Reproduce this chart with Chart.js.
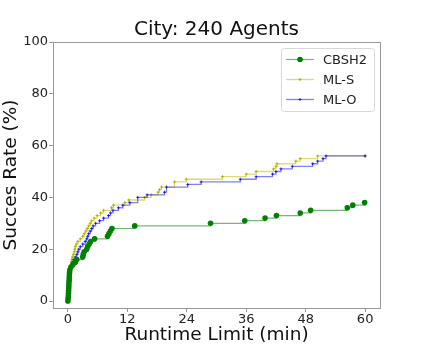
<!DOCTYPE html>
<html>
<head>
<meta charset="utf-8">
<script src="https://cdn.jsdelivr.net/npm/chart.js@4.4.0/dist/chart.umd.min.js"></script>
<style>
  html, body { margin: 0; padding: 0; background: #fff; }
</style>
</head>
<body>
<canvas id="chart" width="423" height="346"></canvas>
<script>
// Runtime limit (min) at which each extra instance gets solved, and the success rate (%) reached there
const cbshX = [0, 0.05, 0.1, 0.12, 0.15, 0.18, 0.2, 0.22, 0.25, 0.28, 0.3, 0.35, 0.4, 0.6, 1.0, 1.5, 1.8, 3.0, 3.1, 3.3,
               3.8, 4.0, 4.3, 4.6, 5.4, 8.0, 8.3, 8.6, 8.9, 13.5, 28.8, 35.7, 39.8, 42.1, 46.9, 49.0, 56.4, 57.5, 59.9];
const cbshY = [0, 1, 2, 3, 4, 5, 6, 7, 8, 9, 10, 11, 12, 13, 14, 15, 16, 17, 18, 19,
               20, 21, 22, 23, 24, 25, 26, 27, 28, 29, 30, 31, 32, 33, 34, 35, 36, 37, 38];

const mlsX = [0, 0.05, 0.1, 0.15, 0.2, 0.25, 0.3, 0.35, 0.4, 0.5, 0.6, 0.7, 0.8, 0.9, 1.1, 1.3, 1.4, 1.5, 1.7, 2.0,
              2.5, 3.0, 3.3, 3.6, 3.9, 4.2, 4.5, 4.8, 5.3, 5.9, 6.6, 7.2, 8.8, 9.2, 11.5, 12.3, 15.5, 16.8, 18.2, 18.5,
              18.9, 21.5, 23.9, 31.2, 36.0, 38.0, 41.5, 42.0, 42.2, 46.0, 46.9, 50.4, 60];
const mlsY = [0, 1, 2, 4, 6, 8, 10, 11, 12, 13, 14, 15, 16, 17, 18, 19, 20, 21, 22, 23,
              24, 25, 26, 27, 28, 29, 30, 31, 32, 33, 34, 35, 36, 37, 38, 39, 40, 41, 42, 43,
              44, 46, 47, 48, 49, 50, 51, 52, 53, 54, 55, 56, 56];

const mloX = [0, 0.05, 0.1, 0.15, 0.2, 0.25, 0.3, 0.35, 0.4, 0.5, 0.7, 0.9, 1.2, 1.5, 1.8, 2.0, 2.2, 2.5, 3.0, 3.5,
              3.8, 4.0, 4.2, 4.5, 4.8, 5.1, 5.6, 6.4, 7.2, 8.2, 8.6, 9.1, 10.2, 11.1, 12.5, 14.1, 16.0, 19.5, 19.9, 24.2,
              26.9, 34.8, 38.0, 41.3, 42.0, 43.0, 45.3, 49.4, 50.4, 51.5, 52.1, 60];
const mloY = [0, 1, 2, 4, 6, 8, 10, 11, 12, 13, 14, 15, 16, 17, 18, 19, 20, 21, 22, 23,
              24, 25, 26, 27, 28, 29, 30, 31, 32, 33, 34, 35, 36, 37, 38, 40, 41, 42, 44, 45,
              46, 47, 48, 49, 50, 51, 52, 53, 54, 55, 56, 56];

const xTicks = [0, 12, 24, 36, 48, 60];
const yTicks = [0, 20, 40, 60, 80, 100];

const FONT = 'DejaVu Sans';
const toPoints = (xs, ys) => xs.map((x, i) => ({ x: x, y: ys[i] }));

// legend drawn inside the top right corner of the plot
const legendBox = {
    id: 'legendBox',
    afterDraw(chart) {
        const ctx = chart.ctx;
        const area = chart.chartArea;
        const w = 93, h = 63;
        const x0 = area.right - 6 - w;
        const y0 = area.top + 6;
        ctx.save();
        ctx.fillStyle = 'rgba(255,255,255,0.85)';
        ctx.strokeStyle = '#d8d8d8';
        ctx.lineWidth = 1;
        ctx.beginPath();
        ctx.roundRect(x0 + 0.5, y0 + 0.5, w, h, 3);
        ctx.fill();
        ctx.stroke();
        chart.data.datasets.forEach((ds, i) => {
            const y = y0 + 11.5 + i * 20;
            ctx.strokeStyle = ds.borderColor;
            ctx.lineWidth = ds.borderWidth;
            ctx.beginPath();
            ctx.moveTo(x0 + 5, y);
            ctx.lineTo(x0 + 33, y);
            ctx.stroke();
            ctx.fillStyle = ds.pointBackgroundColor;
            ctx.strokeStyle = ds.pointBorderColor;
            ctx.lineWidth = ds.pointBorderWidth;
            Chart.helpers.drawPoint(ctx, {
                pointStyle: ds.pointStyle, radius: ds.pointRadius, rotation: 0, borderWidth: ds.pointBorderWidth
            }, x0 + 19, y);
            ctx.fillStyle = '#222';
            ctx.font = '13px "' + FONT + '"';
            ctx.textBaseline = 'middle';
            ctx.fillText(ds.label, x0 + 42, y + 1);
        });
        ctx.restore();
    }
};

// full box around the axes, like matplotlib spines
const frame = {
    id: 'frame',
    afterDatasetsDraw(chart) {
        const a = chart.chartArea;
        const ctx = chart.ctx;
        ctx.save();
        ctx.strokeStyle = '#999';
        ctx.lineWidth = 1;
        ctx.strokeRect(Math.round(a.left) + 0.5, Math.round(a.top) + 0.5,
                       Math.round(a.right - a.left), Math.round(a.bottom - a.top));
        ctx.restore();
    }
};

new Chart(document.getElementById('chart'), {
    type: 'line',
    data: {
        datasets: [
            {
                label: 'CBSH2',
                data: toPoints(cbshX, cbshY),
                stepped: 'before',
                borderColor: 'rgba(0,128,0,0.55)',
                borderWidth: 1.2,
                pointStyle: 'circle',
                pointRadius: 2.8,
                pointBackgroundColor: '#008000',
                pointBorderColor: '#008000',
                pointBorderWidth: 0,
                order: 0
            },
            {
                label: 'ML-S',
                data: toPoints(mlsX, mlsY),
                stepped: 'before',
                borderColor: 'rgba(191,191,0,0.55)',
                borderWidth: 1.3,
                pointStyle: 'cross',
                pointRadius: 1.5,
                pointBackgroundColor: '#bfbf00',
                pointBorderColor: '#b5b500',
                pointBorderWidth: 1,
                order: 2
            },
            {
                label: 'ML-O',
                data: toPoints(mloX, mloY),
                stepped: 'before',
                borderColor: 'rgba(0,0,255,0.5)',
                borderWidth: 1.3,
                pointStyle: 'cross',
                pointRadius: 1.5,
                pointBackgroundColor: '#0000ff',
                pointBorderColor: 'rgba(0,0,255,0.75)',
                pointBorderWidth: 1,
                order: 1
            }
        ]
    },
    options: {
        responsive: false,
        animation: false,
        layout: { padding: { left: 0, right: 43, top: 0, bottom: 0 } },
        plugins: {
            legend: { display: false },
            tooltip: { enabled: false },
            title: {
                display: true,
                text: 'City: 240 Agents',
                fullSize: false,
                color: '#111',
                font: { family: FONT, size: 20, weight: 'normal' },
                padding: { top: 18, bottom: 0 }
            }
        },
        scales: {
            x: {
                type: 'linear',
                min: -3,
                max: 63,
                afterFit: (s) => { s.height = 38; },
                afterBuildTicks: (s) => { s.ticks = xTicks.map(v => ({ value: v })); },
                grid: { display: true, drawOnChartArea: false, drawTicks: true, tickLength: 4, color: '#999' },
                border: { display: true, color: '#999' },
                ticks: { color: '#222', padding: 0, maxRotation: 0, font: { family: FONT, size: 13 } },
                title: {
                    display: true,
                    text: 'Runtime Limit (min)',
                    color: '#111',
                    padding: 0,
                    font: { family: FONT, size: 18.5 }
                }
            },
            y: {
                type: 'linear',
                min: -2.7,
                max: 100,
                afterFit: (s) => { s.width = 53; },
                afterBuildTicks: (s) => { s.ticks = yTicks.map(v => ({ value: v })); },
                grid: { display: true, drawOnChartArea: false, drawTicks: true, tickLength: 4, color: '#999' },
                border: { display: true, color: '#999' },
                ticks: { color: '#222', padding: 1, font: { family: FONT, size: 13 } },
                title: {
                    display: true,
                    text: 'Succes Rate (%)',
                    color: '#111',
                    padding: 0,
                    font: { family: FONT, size: 18.5 }
                }
            }
        }
    },
    plugins: [frame, legendBox]
});
</script>
</body>
</html>
